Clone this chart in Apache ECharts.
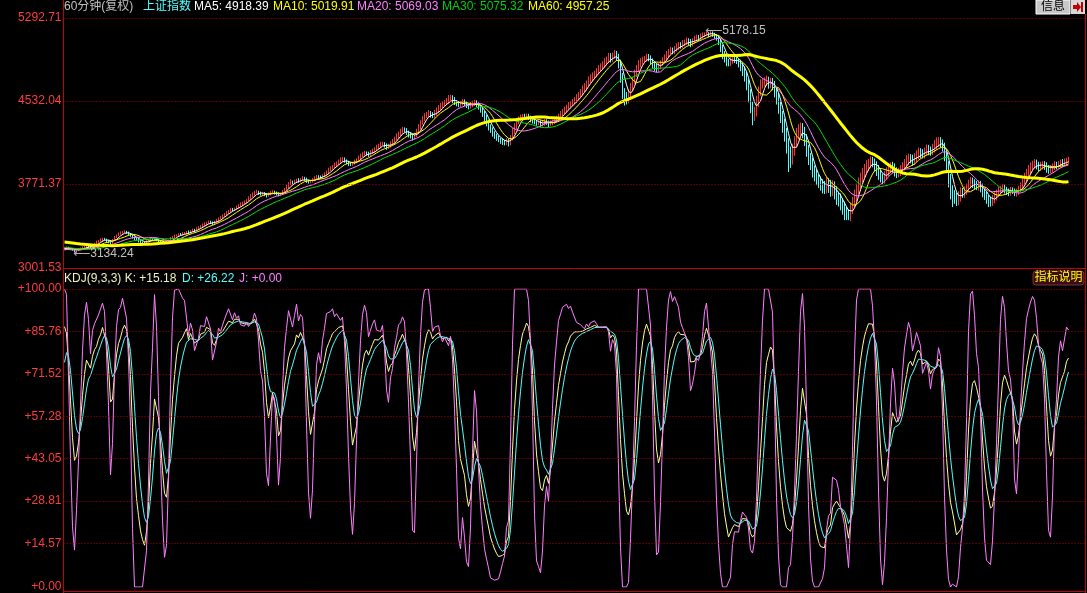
<!DOCTYPE html>
<html>
<head>
<meta charset="utf-8">
<script src="https://cdn.jsdelivr.net/npm/echarts@6/dist/echarts.min.js"></script>
<style>
html,body{margin:0;padding:0;background:#000;}
#chart{width:1087px;height:593px;}
</style>
</head>
<body>
<div id="chart"></div>
<script>
// 60分钟 K线 + 均线 + KDJ
var warmCloses = [
  3300,3310,3295,3305,3320,3315,3300,3290,3300,3310,3305,3295,3285,3290,3300,3295,3280,3270,3285,3290,
  3280,3275,3285,3280,3270,3265,3275,3270,3260,3250,3255,3245,3250,3240,3230,3235,3225,3215,3220,3230,
  3225,3210,3200,3205,3190,3185,3175,3165,3155,3150,3145,3140,3148,3155,3160,3168,3172,3178,3180,3182
];
var closes = [
  3185,3190,3180,3175,3170,3160,3165,3172,3180,3188,
  3195,3205,3198,3190,3205,3220,3238,3250,3262,3270,
  3265,3250,3238,3230,3255,3285,3300,3315,3322,3330,
  3335,3325,3310,3298,3285,3270,3262,3250,3240,3235,
  3230,3245,3258,3268,3262,3270,3258,3245,3238,3232,
  3228,3235,3250,3270,3285,3295,3302,3310,3305,3315,
  3320,3330,3325,3340,3350,3345,3360,3372,3385,3395,
  3405,3415,3425,3420,3410,3420,3440,3455,3465,3480,
  3495,3510,3525,3540,3535,3545,3560,3575,3585,3595,
  3605,3620,3640,3660,3680,3695,3700,3690,3680,3685,
  3675,3665,3680,3695,3700,3690,3680,3670,3685,3700,
  3720,3745,3770,3790,3780,3795,3805,3798,3810,3825,
  3815,3800,3790,3795,3810,3825,3840,3835,3830,3845,
  3860,3880,3900,3915,3930,3945,3960,3975,3990,4000,
  3985,3970,3955,3950,3960,3975,3990,4010,4030,4045,
  4055,4050,4040,4060,4075,4090,4105,4120,4135,4140,
  4125,4110,4120,4140,4160,4185,4210,4230,4250,4270,
  4265,4245,4225,4210,4200,4215,4250,4290,4330,4370,
  4395,4410,4420,4405,4395,4420,4445,4470,4485,4500,
  4515,4530,4545,4560,4540,4520,4505,4495,4510,4525,
  4505,4490,4480,4495,4510,4520,4500,4480,4455,4420,
  4380,4340,4300,4270,4240,4215,4195,4180,4170,4160,
  4155,4170,4150,4190,4250,4300,4340,4365,4380,4390,
  4385,4395,4380,4365,4350,4340,4330,4335,4320,4330,
  4345,4335,4320,4330,4340,4355,4370,4390,4410,4430,
  4450,4470,4490,4505,4520,4540,4560,4585,4610,4640,
  4660,4690,4720,4745,4760,4780,4800,4825,4845,4860,
  4890,4910,4935,4920,4945,4960,4940,4880,4760,4620,
  4580,4560,4600,4660,4720,4780,4830,4870,4895,4910,
  4920,4935,4925,4900,4870,4845,4830,4850,4880,4905,
  4930,4960,4985,5000,4990,5010,5030,5045,5040,5060,
  5070,5085,5075,5060,5080,5100,5115,5110,5125,5140,
  5150,5155,5140,5160,5145,5130,5115,5080,5020,4960,
  4920,4890,4880,4905,4925,4915,4900,4880,4850,4810,
  4770,4700,4600,4480,4400,4430,4520,4620,4680,4700,
  4710,4720,4690,4705,4680,4620,4560,4480,4400,4320,
  4240,4150,4060,4010,4080,4160,4230,4270,4290,4250,
  4180,4090,4010,3960,3900,3860,3820,3790,3770,3750,
  3740,3780,3760,3720,3750,3700,3660,3640,3600,3570,
  3520,3490,3470,3540,3600,3660,3720,3780,3830,3870,
  3910,3940,3960,3980,3970,3940,3900,3860,3830,3820,
  3850,3880,3910,3930,3920,3890,3870,3880,3900,3930,
  3960,3990,4010,4000,3985,4010,4040,4060,4055,4045,
  4065,4090,4080,4070,4100,4130,4150,4165,4150,4120,
  4040,3940,3820,3720,3680,3650,3620,3660,3700,3690,
  3710,3740,3770,3790,3780,3760,3750,3770,3740,3700,
  3670,3640,3620,3610,3630,3660,3690,3710,3725,3735,
  3720,3700,3695,3710,3705,3690,3700,3720,3745,3780,
  3830,3870,3900,3930,3950,3960,3945,3930,3940,3950,
  3935,3915,3900,3910,3930,3945,3940,3955,3965,3960,
  3975,3985,3990
];
var upWick = [
  8,10,6,5,7,5,8,10,9,12,
  10,12,8,15,10,12,15,10,12,8,
  8,6,10,5,12,10,8,12,15,10,
  12,8,10,6,8,5,10,6,8,5,
  10,12,8,10,6,8,10,6,8,5,
  8,10,12,15,10,12,8,10,12,15,
  12,10,15,8,12,10,15,12,10,14,
  15,10,12,10,8,14,12,10,15,12,
  12,15,10,14,12,10,15,12,18,14,
  15,12,18,20,15,12,18,10,12,14,
  12,10,14,12,15,10,12,14,10,15,
  15,20,18,25,12,18,15,20,15,18,
  12,15,10,12,15,18,15,12,14,16,
  18,15,20,18,15,22,18,20,25,18,
  15,12,14,18,15,20,18,22,20,18,
  20,15,18,22,20,18,25,20,22,18,
  15,18,20,22,25,20,25,22,28,25,
  20,18,15,20,18,25,28,30,25,22,
  25,22,28,20,25,30,28,25,30,28,
  25,30,42,30,25,28,20,25,22,25,
  22,25,20,28,25,22,18,20,18,15,
  20,25,22,18,20,15,18,20,15,18,
  15,20,18,30,35,28,30,25,28,22,
  25,22,20,18,22,20,18,22,20,25,
  22,20,18,25,22,25,28,25,30,28,
  30,28,32,25,30,28,35,30,32,35,
  35,30,38,32,35,30,35,38,32,35,
  35,30,38,35,30,40,30,25,30,28,
  30,35,40,38,35,40,32,35,30,28,
  25,30,28,25,22,25,28,30,25,28,
  28,30,25,28,22,25,30,28,25,30,
  25,28,22,25,28,30,25,22,25,20,
  10,12,8,18.15,10,12,15,18,20,25,
  30,25,28,35,30,25,28,25,30,35,
  40,35,30,40,45,50,60,45,50,40,
  40,45,35,40,38,35,40,45,50,40,
  50,45,40,55,60,50,55,50,45,40,
  45,50,40,45,50,40,45,40,50,45,
  50,55,45,50,55,45,50,40,45,40,
  40,45,50,60,55,60,55,50,45,50,
  45,50,40,45,40,35,40,45,40,35,
  40,45,50,40,45,40,35,40,45,40,
  40,45,40,35,40,45,40,45,40,35,
  40,45,40,35,40,45,50,35,35,30,
  30,35,40,45,40,35,40,45,40,35,
  40,35,40,45,40,35,40,35,30,35,
  30,35,30,35,40,35,30,35,30,35,
  30,25,30,35,30,25,30,35,40,45,
  45,40,45,40,35,40,35,30,35,30,
  30,35,30,35,30,35,30,25,30,35,
  30,25,30
];
var dnWick = [
  10,6,12,8,10,15,25.76,8,6,5,
  6,8,15,12,6,5,8,6,10,12,
  12,15,10,14,8,6,10,5,8,6,
  8,10,12,10,15,12,8,14,10,12,
  12,8,6,10,12,8,10,14,10,12,
  10,8,6,5,8,10,6,12,8,6,
  8,10,12,6,10,12,8,6,10,8,
  10,12,8,15,14,10,8,12,10,8,
  10,8,12,10,15,12,10,8,12,10,
  12,10,8,12,10,14,10,18,15,12,
  15,18,10,12,10,15,14,12,10,8,
  10,12,15,10,18,12,10,15,12,10,
  14,18,15,12,10,12,10,15,12,10,
  12,10,14,12,10,15,12,14,10,15,
  18,15,20,14,12,10,14,12,15,12,
  15,18,20,12,14,15,12,18,15,14,
  20,25,18,15,14,18,15,20,18,16,
  20,25,28,22,30,20,15,18,20,15,
  20,18,22,25,20,18,22,20,25,18,
  18,20,25,22,28,25,22,20,18,20,
  20,22,25,18,20,22,25,28,30,35,
  35,40,38,30,35,30,28,25,30,32,
  30,28,35,25,20,22,25,20,18,22,
  20,25,22,28,25,22,25,20,28,22,
  25,22,28,20,22,20,18,22,20,18,
  20,22,18,25,20,22,25,20,22,25,
  25,30,22,25,28,25,30,22,25,28,
  25,30,28,35,30,25,40,50,60,70,
  90,60,50,40,35,30,28,32,30,28,
  25,28,30,35,40,38,35,30,28,25,
  25,28,30,25,30,28,25,30,28,25,
  28,25,30,35,28,25,22,28,25,22,
  20,18,25,22,25,28,30,35,40,45,
  35,40,30,28,32,35,30,40,45,50,
  60,70,80,60,90,50,40,45,40,35,
  35,40,45,40,50,55,60,65,70,80,
  80,100,180,90,60,50,45,50,55,60,
  60,70,65,60,70,65,60,55,60,65,
  60,55,70,65,60,70,80,75,70,80,
  80,50,30,40,45,40,45,40,50,45,
  40,45,50,40,45,50,55,50,45,50,
  45,40,35,40,45,50,45,40,35,40,
  35,40,45,40,45,40,35,40,45,40,
  40,35,45,40,35,40,45,40,45,50,
  60,70,80,90,120,60,50,45,50,45,
  45,40,35,40,45,40,35,40,45,50,
  45,50,60,45,40,35,40,35,30,35,
  35,30,35,30,25,30,35,30,25,30,
  30,35,40,35,30,35,40,45,40,35,
  35,40,35,30,35,30,35,30,35,30,
  30,35,25
];
var maPeriods = [5, 10, 20, 30, 60];
var maColors = ['#ffffff', '#ffff00', '#ff80ff', '#00e000', '#ffff00'];
var maHeader = ['4918.39', '5019.91', '5069.03', '5075.32', '4957.25'];
var kdjHeader = ['+15.18', '+26.22', '+0.00'];
var priceTicks = [3001.53, 3771.37, 4532.04, 5292.71];
var kdjTicks = [0, 14.57, 28.81, 43.05, 57.28, 71.52, 85.76, 100];
var slotCount = 511;

var W = warmCloses.length;
var all = warmCloses.concat(closes);
var allHigh = [], allLow = [];
for (var i = 0; i < all.length; i++) {
    var o = i === 0 ? all[0] : all[i - 1];
    var hi = Math.max(o, all[i]), lo = Math.min(o, all[i]);
    if (i >= W) { hi += upWick[i - W]; lo -= dnWick[i - W]; }
    allHigh.push(hi); allLow.push(lo);
}
var candles = [];
for (var i = 0; i < closes.length; i++) {
    candles.push([all[W + i - 1], closes[i], allLow[W + i], allHigh[W + i]]);
}

function calcMA(p) {
    var out = [];
    for (var i = 0; i < closes.length; i++) {
        var s = 0;
        for (var j = W + i - p + 1; j <= W + i; j++) s += all[j];
        out.push(+(s / p).toFixed(2));
    }
    return out;
}

// KDJ(9,3,3)
var K = [], D = [], J = [];
(function () {
    var k = 50, d = 50;
    for (var i = 0; i < all.length; i++) {
        var hh = -Infinity, ll = Infinity;
        for (var j = Math.max(0, i - 8); j <= i; j++) {
            hh = Math.max(hh, allHigh[j]); ll = Math.min(ll, allLow[j]);
        }
        var rsv = hh === ll ? 50 : (all[i] - ll) / (hh - ll) * 100;
        k = (2 * k + rsv) / 3;
        d = (2 * d + k) / 3;
        if (i >= W) {
            K.push(+k.toFixed(2)); D.push(+d.toFixed(2));
            J.push(+Math.max(0, Math.min(100, 3 * k - 2 * d)).toFixed(2));
        }
    }
})();

var cats = [];
for (var i = 0; i < slotCount; i++) cats.push(i);

var FONT = '"Liberation Sans", "Noto Sans CJK SC", sans-serif';
var RED = '#c80000';
var dotted = { type: [1, 2], color: '#b00000', width: 1 };

function dotLines(vals) {
    return {
        silent: true, symbol: ['none', 'none'], animation: false,
        label: { show: false }, lineStyle: dotted,
        data: vals.map(function (v) { return { yAxis: v }; })
    };
}

var series = [{
    type: 'candlestick',
    xAxisIndex: 0, yAxisIndex: 0,
    data: candles,
    barWidth: 0.01,
    itemStyle: { color: '#ff3232', color0: '#54fcfc', borderColor: '#ff3232', borderColor0: '#54fcfc', borderWidth: 1 },
    markLine: dotLines(priceTicks.slice(1)),
    markPoint: {
        symbol: 'circle', symbolSize: 1, animation: false,
        itemStyle: { color: 'rgba(0,0,0,0)' },
        label: {
            show: true, position: 'right', distance: 0, color: '#c0c0c0',
            fontSize: 12, fontFamily: FONT,
            formatter: function (p) { return '{a|\u27f5}{b|' + Number(p.value).toFixed(2) + '}'; },
            rich: {
                a: { fontFamily: '"DejaVu Sans"', fontSize: 12, color: '#b0b0b0' },
                b: { fontFamily: FONT, fontSize: 12, color: '#c0c0c0' }
            }
        },
        data: [
            { type: 'max', valueDim: 'highest', label: { offset: [-6, 0] } },
            { type: 'min', valueDim: 'lowest', label: { offset: [-4, 0] } }
        ]
    }
}];
maPeriods.forEach(function (p, n) {
    series.push({
        type: 'line', name: 'MA' + p, xAxisIndex: 0, yAxisIndex: 0,
        data: calcMA(p), showSymbol: false, symbol: 'none',
        lineStyle: { color: maColors[n], width: p === 60 ? 3 : 1 }
    });
});
series.push({
    type: 'line', name: 'K', xAxisIndex: 1, yAxisIndex: 1, data: K,
    showSymbol: false, symbol: 'none', lineStyle: { color: '#ffff99', width: 1 },
    markLine: dotLines(kdjTicks.slice(1))
});
series.push({
    type: 'line', name: 'D', xAxisIndex: 1, yAxisIndex: 1, data: D,
    showSymbol: false, symbol: 'none', lineStyle: { color: '#54ffff', width: 1 }
});
series.push({
    type: 'line', name: 'J', xAxisIndex: 1, yAxisIndex: 1, data: J,
    showSymbol: false, symbol: 'none', lineStyle: { color: '#ff80ff', width: 1 }
});

function txt(x, y, s, color) {
    return { type: 'text', x: x, y: y, silent: true, z: 100,
        style: { text: s, fill: color, font: '12px ' + FONT, textVerticalAlign: 'middle' } };
}
function line(x1, y1, x2, y2) {
    return { type: 'line', silent: true, z: 90,
        shape: { x1: x1, y1: y1, x2: x2, y2: y2 }, style: { stroke: RED, lineWidth: 1 } };
}

var graphics = [
    line(63.5, 0, 63.5, 593),
    line(63, 268.5, 1086, 268.5),
    line(1085.5, 14, 1085.5, 593),
    line(63, 591.5, 1086, 591.5),
    txt(64, 7, '60分钟(复权)', '#c0c0c0'),
    txt(143, 7, '上证指数', '#54ffff'),
    txt(194, 7, 'MA5: ' + maHeader[0], '#ffffff'),
    txt(273, 7, 'MA10: ' + maHeader[1], '#ffff00'),
    txt(357, 7, 'MA20: ' + maHeader[2], '#ff80ff'),
    txt(442, 7, 'MA30: ' + maHeader[3], '#00d000'),
    txt(528, 7, 'MA60: ' + maHeader[4], '#ffff00'),
    txt(64, 279, 'KDJ(9,3,3) K: ' + kdjHeader[0], '#f0f0c0'),
    txt(182, 279, 'D: ' + kdjHeader[1], '#54ffff'),
    txt(239, 279, 'J: ' + kdjHeader[2], '#ff80ff'),
    { type: 'rect', z: 95, silent: true, shape: { x: 1036, y: 0, width: 34, height: 14 },
      style: { fill: '#c8c8c8', stroke: '#ffffff', lineWidth: 1 } },
    { type: 'text', z: 100, silent: true, x: 1053, y: 7,
      style: { text: '信息', fill: '#000', font: '12px ' + FONT, textAlign: 'center', textVerticalAlign: 'middle' } },
    { type: 'rect', z: 95, silent: true, shape: { x: 1071, y: 0, width: 14, height: 14 },
      style: { fill: '#d8d8d8' } },
    { type: 'polygon', z: 100, silent: true,
      shape: { points: [[1073, 5], [1077, 5], [1077, 2], [1081, 7], [1077, 12], [1077, 9], [1073, 9]] },
      style: { fill: '#c00000' } },
    { type: 'rect', z: 100, silent: true, shape: { x: 1081, y: 2, width: 2, height: 10 },
      style: { fill: '#c00000' } },
    { type: 'rect', z: 95, silent: true, shape: { x: 1033, y: 271, width: 51, height: 14, r: 3 },
      style: { fill: '#3c0c14', stroke: '#7a3040', lineWidth: 1 } },
    { type: 'text', z: 100, silent: true, x: 1058.5, y: 278,
      style: { text: '指标说明', fill: '#ffff00', font: '12px ' + FONT, textAlign: 'center', textVerticalAlign: 'middle' } }
];

var axisLabelBase = { color: '#ff3c3c', fontSize: 12, fontFamily: FONT, margin: 2,
    verticalAlignMinLabel: 'middle', verticalAlignMaxLabel: 'middle' };

var option = {
    backgroundColor: '#000',
    animation: false,
    grid: [
        { left: 63.5, right: 1.5, top: 0, height: 268 },
        { left: 63.5, right: 1.5, top: 289, height: 302 }
    ],
    xAxis: [
        { type: 'category', gridIndex: 0, data: cats, boundaryGap: true,
          axisLine: { show: false }, axisTick: { show: false }, axisLabel: { show: false }, splitLine: { show: false } },
        { type: 'category', gridIndex: 1, data: cats, boundaryGap: true,
          axisLine: { show: false }, axisTick: { show: false }, axisLabel: { show: false }, splitLine: { show: false } }
    ],
    yAxis: [
        { type: 'value', gridIndex: 0, min: 3001.53, max: 5457.67,
          axisLine: { show: false }, axisTick: { show: false }, splitLine: { show: false },
          axisLabel: Object.assign({}, axisLabelBase, {
              customValues: priceTicks,
              formatter: function (v) { return Number(v).toFixed(2); }
          }) },
        { type: 'value', gridIndex: 1, min: 0, max: 100,
          axisLine: { show: false }, axisTick: { show: false }, splitLine: { show: false },
          axisLabel: Object.assign({}, axisLabelBase, {
              customValues: kdjTicks,
              formatter: function (v) { return '+' + Number(v).toFixed(2); }
          }) }
    ],
    graphic: graphics,
    series: series
};

var myChart = echarts.init(document.getElementById('chart'));
myChart.setOption(option);
window.onresize = function () { myChart.resize(); };
</script>
</body>
</html>
